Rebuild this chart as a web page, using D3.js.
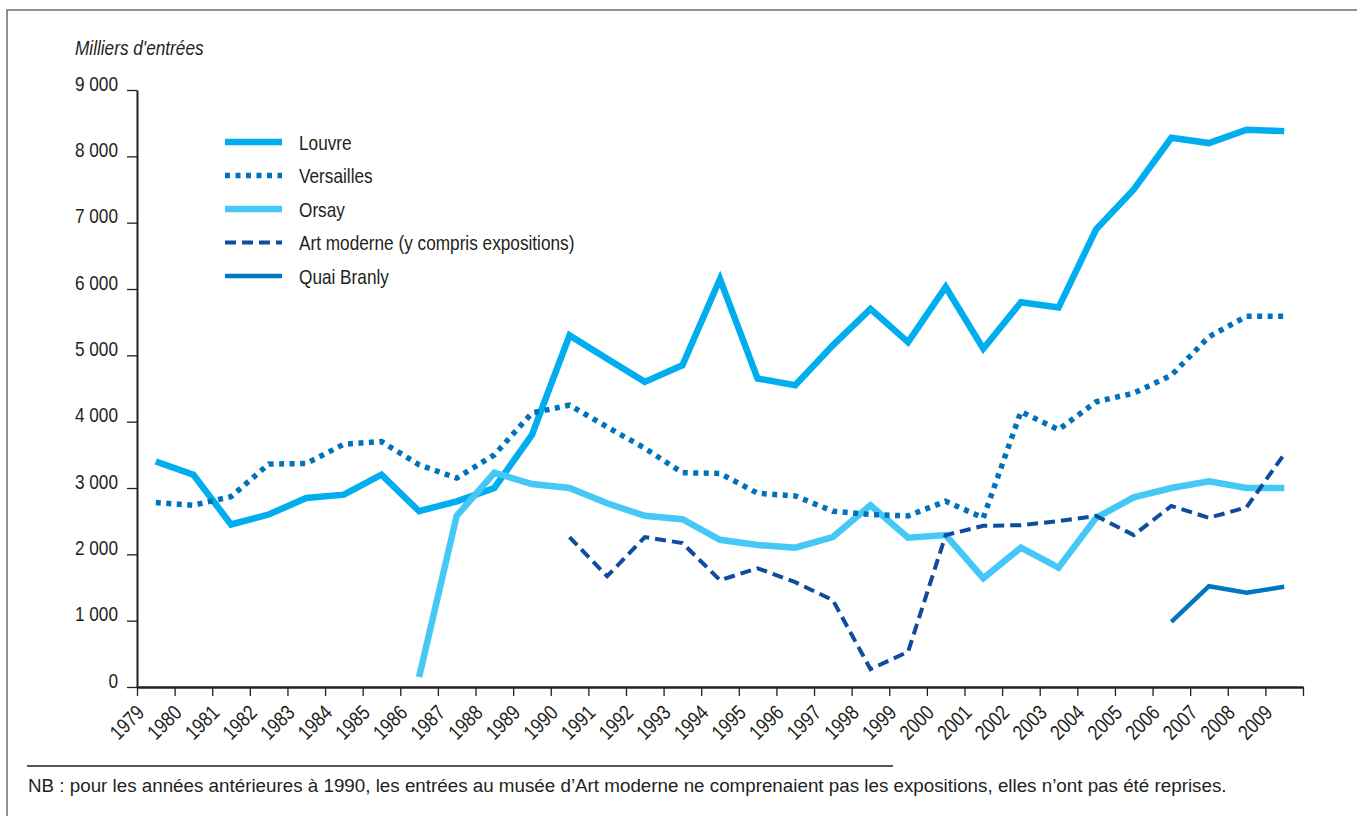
<!DOCTYPE html>
<html>
<head>
<meta charset="utf-8">
<script src="https://cdn.jsdelivr.net/npm/d3@7"></script>
<style>
  body { margin: 0; background: #fff; }
  svg text { font-family: "Liberation Sans", Arial, sans-serif; fill: #231f20; }
</style>
</head>
<body>
<svg width="1357" height="816"></svg>
<script>
// years of the x axis
const years = d3.range(1979, 2010);

// values in milliers d'entrées (null = no data)
const louvre = [3400, 3200, 2450, 2600, 2850, 2900, 3200, 2650, 2800, 3000, 3800, 5300, 4950, 4600, 4850, 6150,
  4650, 4550, 5150, 5700, 5200, 6030, 5100, 5800, 5720, 6900, 7500, 8280, 8200, 8400, 8380];
const versailles = [2780, 2740, 2870, 3360, 3370, 3660, 3700, 3350, 3150, 3500, 4130, 4250, 3920, 3600, 3230, 3220,
  2920, 2880, 2650, 2600, 2580, 2800, 2550, 4150, 3880, 4300, 4430, 4700, 5280, 5590, 5590];
const orsay = [null, null, null, null, null, null, null, 150, 2580, 3230, 3060, 3000, 2770, 2580, 2530, 2220,
  2140, 2100, 2260, 2740, 2250, 2290, 1640, 2100, 1800, 2550, 2860, 3000, 3100, 3000, 3000];
const artModerne = [null, null, null, null, null, null, null, null, null, null, null, 2260, 1670, 2260, 2170, 1610,
  1790, 1580, 1310, 270, 530, 2290, 2430, 2440, 2500, 2580, 2290, 2730, 2550, 2710, 3510];
const quaiBranly = [null, null, null, null, null, null, null, null, null, null, null, null, null, null, null, null,
  null, null, null, null, null, null, null, null, null, null, null, 980, 1520, 1420, 1510];

const yTicks = d3.range(0, 9001, 1000);

const seriesNames = ["Louvre", "Versailles", "Orsay", "Art moderne (y compris expositions)", "Quai Branly"];

const styles = {
  "Louvre": { color: "#00aeef", width: 6.5, dash: null },
  "Versailles": { color: "#0072bc", width: 5.5, dash: "5,5.5" },
  "Orsay": { color: "#45c8f5", width: 6.5, dash: null },
  "Art moderne (y compris expositions)": { color: "#0d4c9e", width: 4, dash: "11,6" },
  "Quai Branly": { color: "#0077c0", width: 4.5, dash: null }
};
const seriesData = {
  "Louvre": louvre,
  "Versailles": versailles,
  "Orsay": orsay,
  "Art moderne (y compris expositions)": artModerne,
  "Quai Branly": quaiBranly
};

// condensed look: no narrow font installed, so squeeze horizontally
const narrow = "scale(0.82,1)";

const svg = d3.select("svg");

// frame
svg.append("path")
  .attr("d", "M7,816 V10 H1357")
  .attr("fill", "none")
  .attr("stroke", "#6d6e71")
  .attr("stroke-width", 1.5);

// scales: ticks on year boundaries, points in the middle
const x = d3.scaleLinear().domain([1979, 2010]).range([137, 1303]);
const y = d3.scaleLinear().domain([0, 9000]).range([687, 90]);

// y axis
const yAxis = svg.append("g")
  .attr("transform", "translate(137,0)")
  .call(d3.axisLeft(y).tickValues(yTicks).tickSize(10).tickSizeOuter(0)
    .tickFormat(d => d3.format(",")(d).replace(",", " ")));
yAxis.select(".domain").attr("stroke", "#231f20").attr("stroke-width", 2);
yAxis.selectAll(".tick line").attr("stroke", "#231f20").attr("stroke-width", 1.3);
yAxis.selectAll(".tick text")
  .attr("x", 0).attr("dy", "0")
  .attr("transform", "translate(-19,0) " + narrow)
  .style("font-size", "21px");

// x axis
const xAxis = svg.append("g")
  .attr("transform", "translate(0,687)")
  .call(d3.axisBottom(x).tickValues(d3.range(1979, 2011)).tickSize(9).tickSizeOuter(0)
    .tickFormat(d => d === 2010 ? "" : d));
xAxis.select(".domain").attr("stroke", "#231f20").attr("stroke-width", 2.5);
xAxis.selectAll(".tick line").attr("stroke", "#231f20").attr("stroke-width", 1.3);
xAxis.selectAll(".tick text")
  .attr("y", 0).attr("dy", "0")
  .attr("text-anchor", "end")
  .attr("transform", "translate(8,27) rotate(-45) " + narrow)
  .style("font-size", "21px");

// y title
svg.append("text")
  .attr("transform", "translate(75,55) " + narrow)
  .style("font-style", "italic")
  .style("font-size", "21px")
  .text("Milliers d'entrées");

// lines
const line = d3.line()
  .defined(d => d.v !== null)
  .x(d => x(d.year + 0.5))
  .y(d => y(d.v));

["Louvre", "Orsay", "Versailles", "Art moderne (y compris expositions)", "Quai Branly"].forEach(name => {
  const s = styles[name];
  const pts = years.map((yr, i) => ({ year: yr, v: seriesData[name][i] }));
  svg.append("path")
    .datum(pts)
    .attr("d", line)
    .attr("fill", "none")
    .attr("stroke", s.color)
    .attr("stroke-width", s.width)
    .attr("stroke-dasharray", s.dash)
    .attr("stroke-linejoin", "miter");
});

// legend
const legend = svg.append("g").attr("transform", "translate(225,142)");
seriesNames.forEach((name, i) => {
  const s = styles[name];
  const g = legend.append("g").attr("transform", `translate(0,${i * 33.5})`);
  g.append("line")
    .attr("x1", 0).attr("x2", 57)
    .attr("stroke", s.color)
    .attr("stroke-width", s.width)
    .attr("stroke-dasharray", s.dash);
  g.append("text")
    .attr("transform", "translate(74,7.5) " + narrow)
    .style("font-size", "21px")
    .text(name);
});

// footnote
svg.append("line")
  .attr("x1", 27).attr("x2", 893)
  .attr("y1", 766).attr("y2", 766)
  .attr("stroke", "#231f20").attr("stroke-width", 1.3);
svg.append("text")
  .attr("x", 28).attr("y", 792)
  .style("font-size", "18.8px")
  .text("NB : pour les années antérieures à 1990, les entrées au musée d’Art moderne ne comprenaient pas les expositions, elles n’ont pas été reprises.");
</script>
</body>
</html>
